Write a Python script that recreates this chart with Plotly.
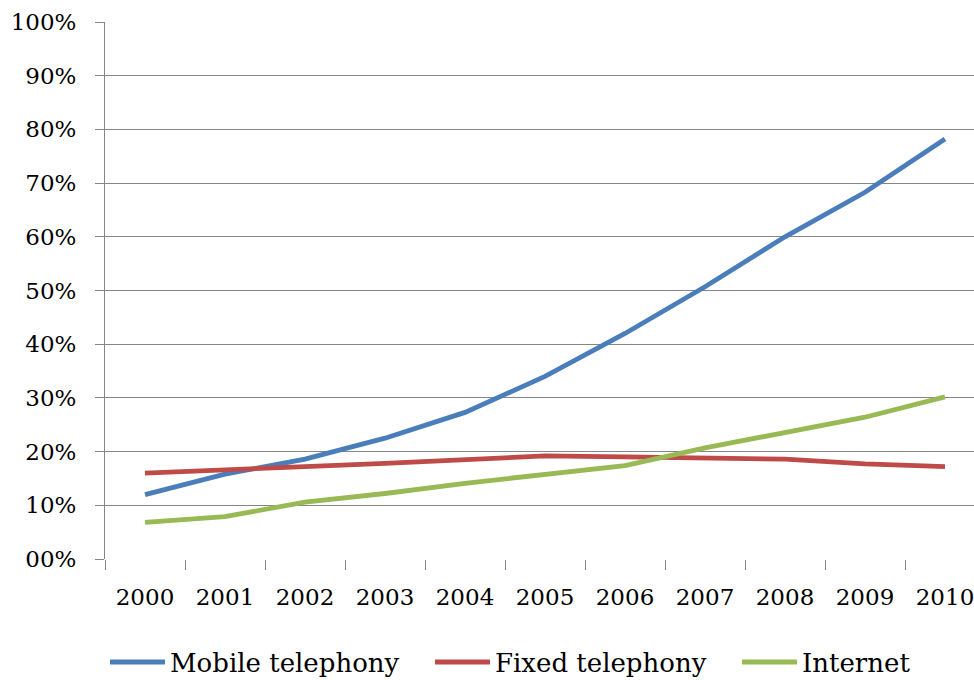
import plotly.graph_objects as go

years = [2000, 2001, 2002, 2003, 2004, 2005, 2006, 2007, 2008, 2009, 2010]
mobile = [12.0, 15.8, 18.6, 22.5, 27.3, 34.0, 42.0, 50.7, 60.0, 68.3, 78.2]
fixed = [16.0, 16.7, 17.2, 17.8, 18.5, 19.2, 19.0, 18.9, 18.6, 17.7, 17.2]
internet = [6.8, 7.9, 10.6, 12.2, 14.1, 15.8, 17.4, 20.7, 23.5, 26.4, 30.2]
y_ticks = [0, 10, 20, 30, 40, 50, 60, 70, 80, 90, 100]
y_labels = ["00%", "10%", "20%", "30%", "40%", "50%", "60%", "70%", "80%", "90%", "100%"]

# name, values, colour, width reserved for the legend entry text
series = [
    ("Mobile telephony", mobile, "#4A7EBB", 255),
    ("Fixed telephony", fixed, "#BE4B48", 237),
    ("Internet", internet, "#98B954", 110),
]

tick_font = dict(family="DejaVu Serif", size=23, color="#000000")
legend_font = dict(family="DejaVu Serif", size=26, color="#000000")

fig = go.Figure()
for name, vals, color, lw in series:
    fig.add_trace(go.Scatter(
        x=years, y=vals, name=name, mode="lines",
        line=dict(color=color, width=4.8),
        legendwidth=lw,
    ))

# category boundaries between years carry the tick marks
boundaries = [y - 0.5 for y in years] + [years[-1] + 0.5]

fig.update_layout(
    width=974, height=680,
    margin=dict(l=105, r=0, t=22, b=121, autoexpand=False),
    paper_bgcolor="white", plot_bgcolor="white",
    font=tick_font,
    showlegend=True,
    legend=dict(orientation="h", x=0, xanchor="left", y=-0.192, yanchor="middle",
                font=legend_font, itemwidth=55, bgcolor="rgba(0,0,0,0)",
                borderwidth=0),
    xaxis=dict(
        range=[1999.5, 1999.5 + (974 - 105) / 80.0],
        tickvals=years, ticktext=[str(y) for y in years],
        ticks="", showgrid=False, zeroline=False,
        showline=False, ticklabelstandoff=22, ticklabeloverflow="allow",
        minor=dict(tickvals=boundaries, ticks="outside", ticklen=10,
                   tickcolor="#868686", tickwidth=1, showgrid=False),
    ),
    yaxis=dict(
        range=[0, 100], tickvals=y_ticks, ticktext=y_labels,
        ticks="outside", ticklen=9, tickcolor="#868686", tickwidth=1,
        showgrid=True, gridcolor="#868686", gridwidth=1,
        zeroline=False, showline=True, linecolor="#868686", linewidth=1,
        ticklabelstandoff=14,
    ),
)

fig.write_html("out.html")
